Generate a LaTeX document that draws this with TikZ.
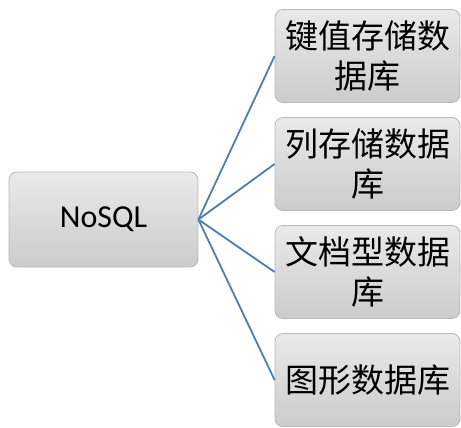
\documentclass[tikz,border=0pt]{standalone}
\usepackage{fontspec}
\newfontfamily\cjk{Noto Sans CJK SC}
\newfontfamily\lat{Carlito}
\begin{document}
\begin{tikzpicture}[x=1pt,y=-1pt,
  box/.style={draw=gray!55, line width=0.8pt, rounded corners=8pt,
    top color=gray!17, bottom color=gray!40,
    minimum width=185pt, minimum height=93pt, inner sep=0pt,
    text width=180pt, align=center},
  link/.style={draw={rgb,255:red,80;green,125;blue,175}, line width=1.8pt}]
\useasboundingbox (0,0) rectangle (461,428);
\node[box, minimum width=189pt, minimum height=95pt, font={\lat\fontsize{32}{38}\selectfont}] (root) at (103.5,219.5) {NoSQL};
\node[box, font={\cjk\fontsize{33}{40}\selectfont}] (a) at (367.5,56) {键值存储数\\据库};
\node[box, font={\cjk\fontsize{33}{40}\selectfont}] (b) at (367.5,164) {列存储数据\\库};
\node[box, font={\cjk\fontsize{33}{40}\selectfont}] (c) at (367.5,272) {文档型数据\\库};
\node[box, font={\cjk\fontsize{33}{40}\selectfont}] (d) at (367.5,380) {图形数据库};
\foreach \t in {a,b,c,d} \draw[link] (root.east) -- (\t.west);
\end{tikzpicture}
\end{document}
